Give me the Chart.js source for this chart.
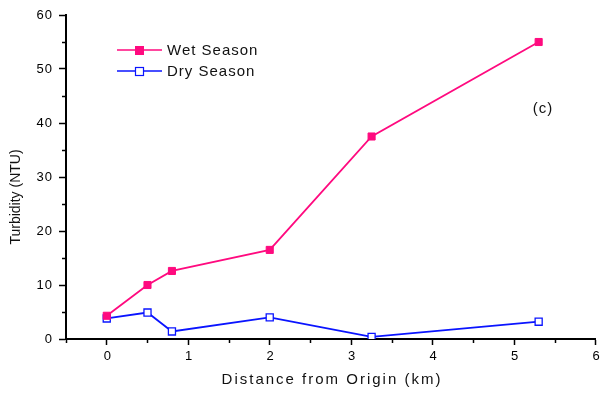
<!DOCTYPE html>
<html>
<head>
<meta charset="utf-8">
<script src="https://cdn.jsdelivr.net/npm/chart.js@4.4.0/dist/chart.umd.min.js"></script>
<style>
  html, body { margin: 0; padding: 0; background: #fff; }
  #wrap { width: 602px; height: 393px; }
</style>
</head>
<body>
<div id="wrap"><canvas id="chart" width="602" height="393"></canvas></div>
<script>
// distances along the stream (km)
const distances = [0, 0.5, 0.8, 2, 3.25, 5.3];
const wetSeason = [4.3, 10, 12.6, 16.5, 37.5, 55];
const drySeason = [3.8, 4.9, 1.4, 4.0, 0.4, 3.2];

const xTicks = [0, 1, 2, 3, 4, 5, 6];
const yTicks = [0, 10, 20, 30, 40, 50, 60];

const wetColor = "#ff0a7f";
const dryColor = "#0a14ff";
const font = "'Liberation Sans', Arial, sans-serif";

const toPoints = (ys) => distances.map((x, i) => ({ x, y: ys[i] }));

// minor ticks, tick labels, axis titles, legend and panel label
const decorations = {
  id: "decorations",
  afterDraw(chart) {
    const { ctx, scales, chartArea } = chart;
    const x = scales.x, y = scales.y;
    ctx.save();
    ctx.strokeStyle = "#000";
    ctx.lineWidth = 1.5;
    // minor ticks
    for (let v = 5; v < 60; v += 10) {
      const py = Math.round(y.getPixelForValue(v)) + 0.5;
      ctx.beginPath();
      ctx.moveTo(chartArea.left - 4, py);
      ctx.lineTo(chartArea.left, py);
      ctx.stroke();
    }
    for (let v = -0.5; v < 6; v += 1) {
      const px = Math.round(x.getPixelForValue(v)) + 0.5;
      ctx.beginPath();
      ctx.moveTo(px, chartArea.bottom);
      ctx.lineTo(px, chartArea.bottom + 4);
      ctx.stroke();
    }

    // tick labels (spaced out like the original)
    ctx.fillStyle = "#000";
    ctx.font = "13px " + font;
    ctx.letterSpacing = "1px";
    ctx.textBaseline = "middle";
    ctx.textAlign = "right";
    yTicks.forEach((v) => {
      ctx.fillText(String(v), 53, y.getPixelForValue(v));
    });
    ctx.textAlign = "center";
    xTicks.forEach((v) => {
      ctx.fillText(String(v), x.getPixelForValue(v) + 1, 356);
    });

    // axis titles
    ctx.fillStyle = "#111";
    ctx.font = "15px " + font;
    ctx.letterSpacing = "2px";
    ctx.fillText("Distance from Origin (km)", 332, 380);
    ctx.letterSpacing = "0px";
    ctx.font = "14px " + font;
    ctx.save();
    ctx.translate(16, 197);
    ctx.rotate(-Math.PI / 2);
    ctx.fillText("Turbidity (NTU)", 0, 0);
    ctx.restore();

    ctx.font = "15px " + font;
    ctx.letterSpacing = "1px";
    ctx.fillText("(c)", 543, 109);

    // legend
    const entries = [
      { label: "Wet Season", color: wetColor, filled: true, yy: 50 },
      { label: "Dry Season", color: dryColor, filled: false, yy: 71 }
    ];
    entries.forEach((e) => {
      ctx.strokeStyle = e.color;
      ctx.lineWidth = 1.5;
      ctx.beginPath();
      ctx.moveTo(117, e.yy);
      ctx.lineTo(162, e.yy);
      ctx.stroke();
      if (e.filled) {
        ctx.fillStyle = e.color;
        ctx.fillRect(135, e.yy - 4, 9, 9);
      } else {
        ctx.fillStyle = "#fff";
        ctx.fillRect(135, e.yy - 4, 9, 9);
        ctx.lineWidth = 1.2;
        ctx.strokeRect(135.5, e.yy - 3.5, 8, 8);
      }
      ctx.fillStyle = "#111";
      ctx.font = "15px " + font;
      ctx.textAlign = "left";
      ctx.letterSpacing = "1px";
      ctx.fillText(e.label, 167, e.yy + 1);
    });
    ctx.restore();
  }
};

new Chart(document.getElementById("chart"), {
  type: "line",
  data: {
    datasets: [
      {
        label: "Wet Season",
        data: toPoints(wetSeason),
        borderColor: wetColor,
        backgroundColor: wetColor,
        borderWidth: 1.8,
        pointStyle: "rect",
        pointRadius: 5,
        pointBorderWidth: 1,
        pointBorderColor: wetColor,
        pointBackgroundColor: wetColor
      },
      {
        label: "Dry Season",
        data: toPoints(drySeason),
        borderColor: dryColor,
        backgroundColor: "#fff",
        borderWidth: 1.8,
        pointStyle: "rect",
        pointRadius: 5,
        pointBorderWidth: 1.3,
        pointBorderColor: dryColor,
        pointBackgroundColor: "#fff"
      }
    ]
  },
  options: {
    responsive: false,
    animation: false,
    layout: { padding: { top: 15, right: 5, left: 0, bottom: 0 } },
    plugins: {
      legend: { display: false },
      tooltip: { enabled: false }
    },
    scales: {
      x: {
        type: "linear",
        min: -0.5,
        max: 6,
        afterBuildTicks: (scale) => { scale.ticks = xTicks.map((v) => ({ value: v })); },
        afterFit: (scale) => { scale.height = 54; },
        border: { display: true, color: "#000", width: 2 },
        grid: { drawOnChartArea: false, drawTicks: true, tickLength: 6, color: "#000", tickWidth: 1.5 },
        ticks: { display: false }
      },
      y: {
        min: 0,
        max: 60,
        afterBuildTicks: (scale) => { scale.ticks = yTicks.map((v) => ({ value: v })); },
        afterFit: (scale) => { scale.width = 66; },
        border: { display: true, color: "#000", width: 2 },
        grid: { drawOnChartArea: false, drawTicks: true, tickLength: 7, color: "#000", tickWidth: 1.5 },
        ticks: { display: false }
      }
    }
  },
  plugins: [decorations]
});
</script>
</body>
</html>
